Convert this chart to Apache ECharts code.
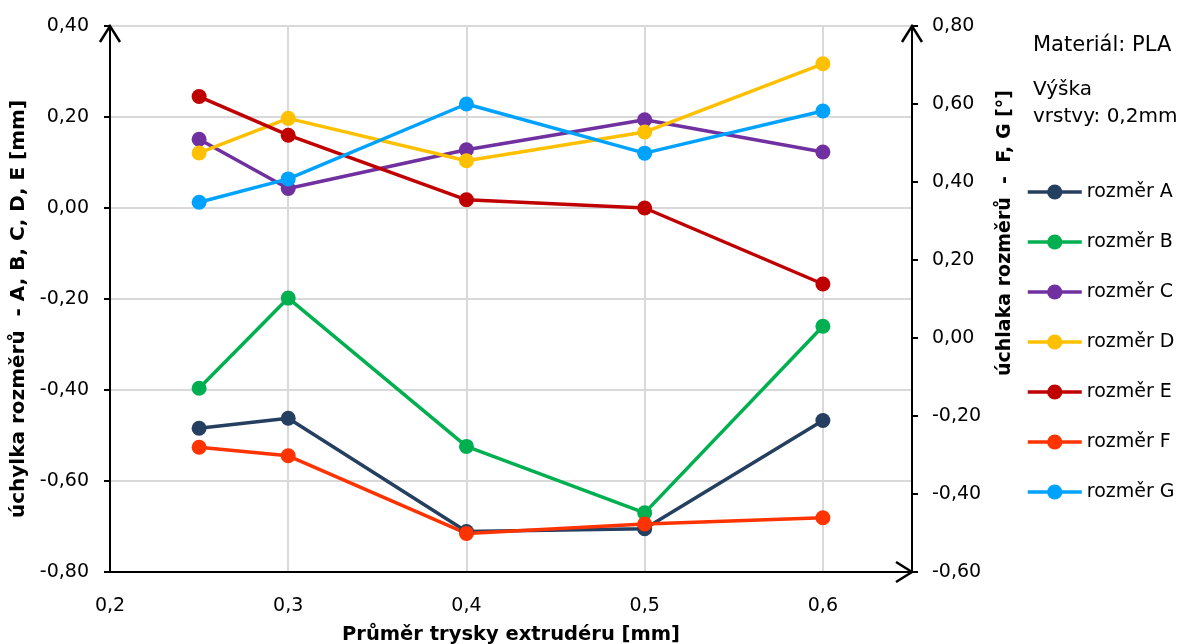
<!DOCTYPE html>
<html><head><meta charset="utf-8">
<script src="https://cdn.jsdelivr.net/npm/echarts@6.0.0/dist/echarts.min.js"></script>
<style>html,body{margin:0;padding:0;background:#fff}#c{width:1185px;height:644px}</style>
</head><body><div id="c"></div>
<script>
// ---- data ----
const nozzle = [0.25, 0.3, 0.4, 0.5, 0.6];
const rozmerA = [-0.484, -0.462, -0.711, -0.705, -0.467];
const rozmerB = [-0.396, -0.198, -0.524, -0.670, -0.260];
const rozmerC = [0.151, 0.043, 0.128, 0.194, 0.123];
const rozmerD = [0.121, 0.197, 0.104, 0.167, 0.317];
const rozmerE = [0.245, 0.160, 0.018, 0.000, -0.167];
const rozmerF = [-0.280, -0.302, -0.501, -0.477, -0.461];
const rozmerG = [0.348, 0.408, 0.600, 0.474, 0.582];
const seriesNames = ['rozměr A','rozměr B','rozměr C','rozměr D','rozměr E','rozměr F','rozměr G'];
const xTickValues = [0.2, 0.3, 0.4, 0.5, 0.6];
const leftTickValues = [-0.8, -0.6, -0.4, -0.2, 0.0, 0.2, 0.4];
const rightTickValues = [-0.6, -0.4, -0.2, 0.0, 0.2, 0.4, 0.6, 0.8];
const xAxisMax = 0.65;
const noteLines = ['Materiál: PLA', 'Výška', 'vrstvy: 0,2mm'];

// ---- chart ----
const colors = ['#243F60','#00B050','#7030A0','#FFC000','#C00000','#FF3300','#00A2FF'];
const allValues = [rozmerA, rozmerB, rozmerC, rozmerD, rozmerE, rozmerF, rozmerG];
const onRight = [false,false,false,false,false,true,true];
const FONT = 'DejaVu Sans';
const fmt = (v, d) => (Math.round(v * 100) / 100).toFixed(d).replace('.', ',');

const chart = echarts.init(document.getElementById('c'), null, {renderer: 'canvas'});
const series = allValues.map((vals, i) => ({
  name: seriesNames[i],
  type: 'line',
  yAxisIndex: onRight[i] ? 1 : 0,
  data: nozzle.map((x, k) => [x, vals[k]]),
  symbol: 'circle',
  symbolSize: 15,
  lineStyle: {width: 3.5, color: colors[i]},
  itemStyle: {color: colors[i]},
  emphasis: {disabled: true},
  animation: false
}));

chart.setOption({
  animation: false,
  grid: {left: 110, right: 273, top: 26, bottom: 72, containLabel: false, outerBoundsMode: 'none'},
  legend: {
    orient: 'vertical', left: 1026, top: 182, padding: 0,
    itemWidth: 54, itemHeight: 19, itemGap: 30,
    data: seriesNames,
    lineStyle: {width: 3.5},
    textStyle: {fontFamily: FONT, fontSize: 19, color: '#000', lineHeight: 20}
  },
  xAxis: {
    type: 'value', min: xTickValues[0], max: xAxisMax, interval: 0.1,
    name: 'Průměr trysky extrudéru [mm]', nameLocation: 'middle', nameGap: 53,
    nameTextStyle: {fontFamily: FONT, fontSize: 19.5, fontWeight: 'bold', color: '#000'},
    axisLine: {show: true, onZero: false, lineStyle: {color: '#000', width: 2}},
    axisTick: {show: false},
    axisLabel: {fontFamily: FONT, fontSize: 19, color: '#000', margin: 25,
      showMaxLabel: false,
      formatter: v => (Math.abs(v - xAxisMax) < 1e-6 ? '' : fmt(v, 1))},
    splitLine: {show: true, lineStyle: {color: '#d9d9d9', width: 2}}
  },
  yAxis: [{
    type: 'value', position: 'left', min: leftTickValues[0], max: leftTickValues[leftTickValues.length-1], interval: 0.2,
    name: 'úchylka rozměrů  - A, B, C, D, E [mm]', nameLocation: 'middle', nameGap: 74,
    nameTextStyle: {fontFamily: FONT, fontSize: 20, fontWeight: 'bold', color: '#000', padding: [0, 20, 0, 0]},
    axisLine: {show: true, onZero: false, lineStyle: {color: '#000', width: 2}},
    axisTick: {show: true, inside: false, length: 6, lineStyle: {color: '#000', width: 2}},
    axisLabel: {fontFamily: FONT, fontSize: 19, color: '#000', margin: 21, formatter: v => fmt(v, 2)},
    splitLine: {show: true, lineStyle: {color: '#d9d9d9', width: 2}}
  }, {
    type: 'value', position: 'right', min: rightTickValues[0], max: rightTickValues[rightTickValues.length-1], interval: 0.2,
    name: 'úchlaka rozměrů  -  F, G [°]', nameLocation: 'middle', nameGap: 84,
    nameTextStyle: {fontFamily: FONT, fontSize: 19, fontWeight: 'bold', color: '#000', padding: [0, 0, 0, 132]},
    axisLine: {show: true, onZero: false, lineStyle: {color: '#000', width: 2}},
    axisTick: {show: true, inside: false, length: 6, lineStyle: {color: '#000', width: 2}},
    axisLabel: {fontFamily: FONT, fontSize: 19, color: '#000', margin: 20, formatter: v => fmt(v, 2)},
    splitLine: {show: false}
  }],
  series: series
});

// arrows on axis ends + notes
const tl = chart.convertToPixel({xAxisIndex: 0, yAxisIndex: 0}, [xTickValues[0], leftTickValues[leftTickValues.length-1]]);
const br = chart.convertToPixel({xAxisIndex: 0, yAxisIndex: 0}, [xAxisMax, leftTickValues[0]]);
const arrowStyle = {stroke: '#000', lineWidth: 2.5, fill: null};
const aw = 10, ah = 16;
chart.setOption({
  graphic: [
    {type: 'polyline', shape: {points: [[tl[0]-aw, tl[1]+ah], [tl[0], tl[1]], [tl[0]+aw, tl[1]+ah]]}, style: arrowStyle, silent: true},
    {type: 'polyline', shape: {points: [[br[0]-aw, tl[1]+ah], [br[0], tl[1]], [br[0]+aw, tl[1]+ah]]}, style: arrowStyle, silent: true},
    {type: 'polyline', shape: {points: [[br[0]-ah, br[1]-aw], [br[0], br[1]], [br[0]-ah, br[1]+aw]]}, style: arrowStyle, silent: true},
    {type: 'text', left: 1033, top: 35, style: {text: noteLines[0], font: '21px "' + FONT + '"', fill: '#000'}},
    {type: 'text', left: 1033, top: 76, style: {text: noteLines[1] + '\n' + noteLines[2], font: '20px "' + FONT + '"', fill: '#000', lineHeight: 27}}
  ]
});
</script></body></html>
